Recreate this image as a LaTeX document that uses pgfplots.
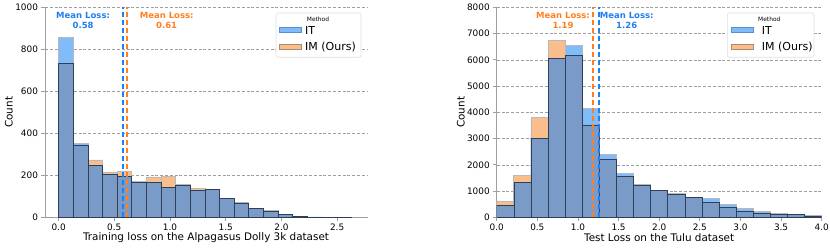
\documentclass[border=0pt]{standalone}
\usepackage{pgfplots}
\pgfplotsset{compat=1.18}
\usepackage{pgfplotstable}
\usepackage{fontspec}
\setmainfont{DejaVu Sans}

\definecolor{itfill}{HTML}{80BBFA}
\definecolor{imfill}{HTML}{F9BE8C}
\definecolor{ovfill}{HTML}{7A9BC8}
\definecolor{ovedge}{HTML}{2E3F57}
\definecolor{itedge}{HTML}{5A8FCF}
\definecolor{imedge}{HTML}{B08A6A}
\definecolor{meanblue}{HTML}{1F7FEF}
\definecolor{meanorange}{HTML}{FF7F1E}

\pgfplotstableread{
x      IT   IM
0.0657 855  733
0.1970 350  341
0.3283 246  273
0.4596 206  215
0.5909 194  218
0.7222 168  172
0.8535 168  192
0.9848 143  196
1.1161 158  151
1.2474 130  137
1.3787 133  131
1.5100  90   91
1.6413  69   70
1.7726  43   42
1.9039  31   30
2.0352  14   13
2.1665   5    4
2.2978   2    1
2.4291   1    1
2.5604   1    1
}\lefttab

\pgfplotstableread{
x      IT    IM
0.1053  445  597
0.3158 1321 1588
0.5263 3010 3810
0.7368 6058 6744
0.9474 6553 6172
1.1579 4140 3518
1.3684 2388 2210
1.5789 1675 1550
1.7895 1245 1225
2.0000 1020 1010
2.2105  875  912
2.4211  765  770
2.6316  712  562
2.8421  487  375
3.0526  350  240
3.2632  220  155
3.4737  145  125
3.6842  120  100
3.8947   70   55
}\righttab

\pgfplotsset{histax/.style={
  scale only axis,
  axis x line*=bottom, axis y line*=left,
  axis line style={-, gray!75, line width=0.8pt},
  tick align=outside, major tick length=3.5pt,
  tick style={gray!75, line width=0.8pt},
  ymajorgrids,
  grid style={gray!75, line width=0.6pt, dash pattern=on 3pt off 1.8pt},
  ymin=0,
  /pgf/number format/assume math mode=true,
  tick label style={font=\fontsize{8.9}{10}\selectfont},
  label style={font=\fontsize{10.4}{12}\selectfont},
  yticklabel style={/pgf/number format/1000 sep={}},
  xticklabel style={/pgf/number format/.cd, fixed, fixed zerofill, precision=1},
  xlabel style={at={(axis description cs:0.5,-0.096)}, anchor=center},
}}

\newcommand{\bars}[2]{%
  \addplot[ybar, bar width=#2, bar shift=0pt, fill=imfill, draw=gray!55, line width=0.7pt] table[x=x,y=IM]{#1};
  \addplot[ybar, bar width=#2, bar shift=0pt, fill=itfill, draw=gray!55, line width=0.7pt] table[x=x,y=IT]{#1};
  \addplot[ybar, bar width=#2, bar shift=0pt, fill=ovfill, draw=ovedge, line width=0.6pt] table[x=x,y expr={min(\thisrow{IT},\thisrow{IM})}]{#1};
}

\begin{document}
\begin{tikzpicture}
\useasboundingbox (0,0) rectangle (830pt,247pt);

\begin{axis}[histax,
  at={(45pt,29.7pt)}, anchor=south west,
  width=322pt, height=210pt,
  xmin=-0.122, xmax=2.768, ymax=1000,
  xtick={0,0.5,...,2.5}, ytick={0,200,...,1000},
  xlabel={Training loss on the Alpagasus Dolly 3k dataset},
  ylabel={Count},
  ylabel style={at={(axis description cs:-0.112,0.5)}, anchor=center},
]
\bars{\lefttab}{0.1313}
\addplot[meanblue, line width=2pt, dash pattern=on 5.5pt off 2.5pt] coordinates {(0.58,0) (0.58,1000)};
\addplot[meanorange, line width=2pt, dash pattern=on 5.5pt off 2.5pt] coordinates {(0.61,0) (0.61,1000)};
\node[font=\fontsize{8.5}{10}\selectfont\bfseries, text=meanblue, align=center] at (axis cs:0.22,935) {Mean Loss:\\0.58};
\node[font=\fontsize{8.5}{10}\selectfont\bfseries, text=meanorange, align=center] at (axis cs:0.97,935) {Mean Loss:\\0.61};
\end{axis}

\begin{axis}[histax,
  at={(496.7pt,29.7pt)}, anchor=south west,
  width=325pt, height=210pt,
  xmin=0, xmax=4, ymax=8000,
  xtick={0,0.5,...,4}, ytick={0,1000,...,8000},
  xlabel={Test Loss on the Tulu dataset},
  ylabel={Count},
  ylabel style={at={(axis description cs:-0.11,0.5)}, anchor=center},
]
\bars{\righttab}{0.2105}
\addplot[meanorange, line width=2pt, dash pattern=on 5.5pt off 2.5pt] coordinates {(1.19,0) (1.19,8000)};
\addplot[meanblue, line width=2pt, dash pattern=on 5.5pt off 2.5pt] coordinates {(1.26,0) (1.26,8000)};
\node[font=\fontsize{8.5}{10}\selectfont\bfseries, text=meanorange, align=center] at (axis cs:0.816,7480) {Mean Loss:\\1.19};
\node[font=\fontsize{8.5}{10}\selectfont\bfseries, text=meanblue, align=center] at (axis cs:1.60,7480) {Mean Loss:\\1.26};
\end{axis}

\foreach \lx/\rx/\px/\tx/\mx in {276/361/279.3/305/318, 727.3/814/731.7/761.7/769.3}{
  \draw[rounded corners=2pt, draw=gray!25, fill=white, line width=0.6pt] (\lx pt,234pt) rectangle (\rx pt,189.8pt);
  \node[font=\fontsize{5.9}{7}\selectfont] at (\mx pt,227.5pt) {Method};
  \draw[fill=itfill, draw=itedge, line width=0.5pt] (\px pt,219.3pt) rectangle ++(21.7pt,-4.6pt);
  \node[anchor=west, inner sep=0pt, font=\fontsize{11}{12}\selectfont] at (\tx pt,217pt) {IT};
  \draw[fill=imfill, draw=imedge, line width=0.5pt] (\px pt,203pt) rectangle ++(21.7pt,-5.3pt);
  \node[anchor=west, inner sep=0pt, font=\fontsize{11}{12}\selectfont] at (\tx pt,200.3pt) {IM (Ours)};
}
\end{tikzpicture}
\end{document}
